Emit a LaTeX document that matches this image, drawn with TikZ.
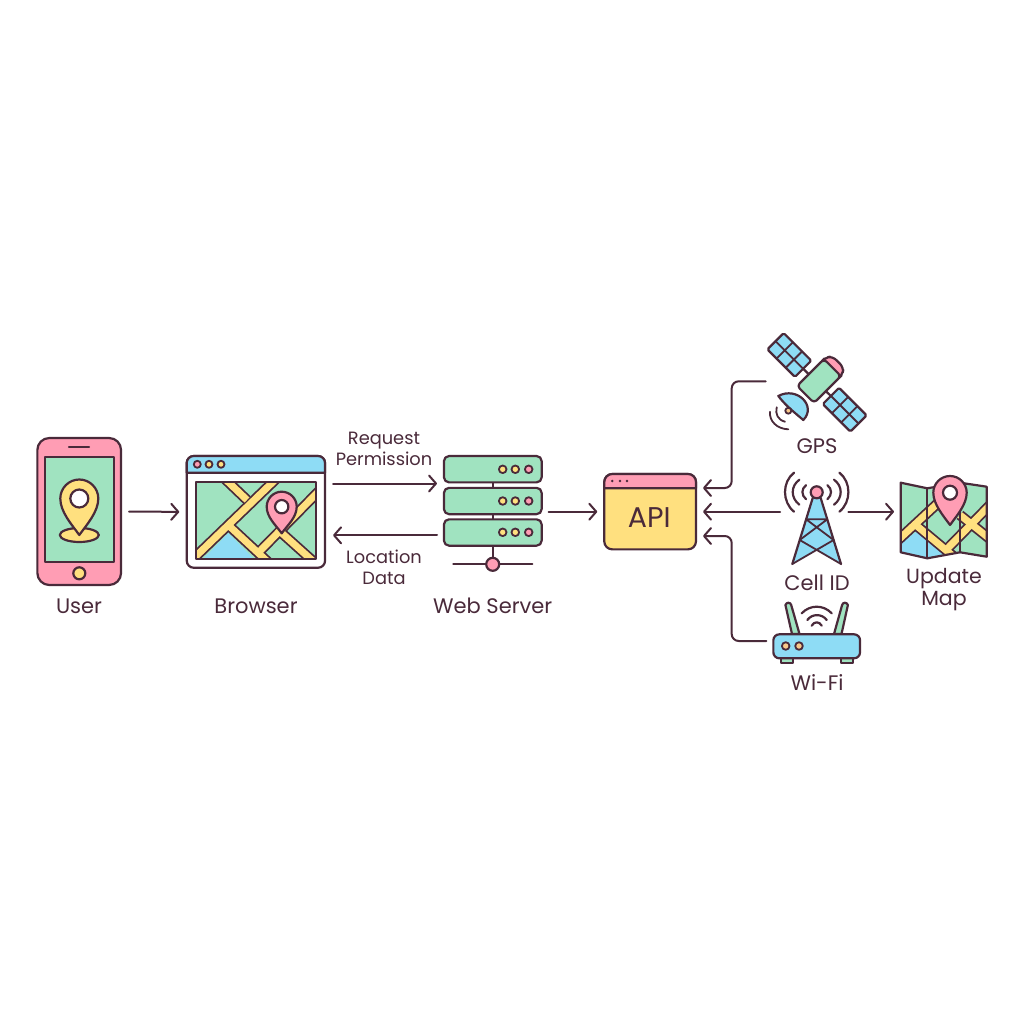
\documentclass[tikz,border=0pt]{standalone}
\usepackage{fontspec}
\setmainfont{Poppins}
\usetikzlibrary{arrows.meta,calc}
\definecolor{ink}{HTML}{4A2A3A}
\definecolor{rose}{HTML}{FF9DB4}
\definecolor{mint}{HTML}{A0E3C0}
\definecolor{butter}{HTML}{FFE07F}
\definecolor{sky}{HTML}{8EDCF5}
\definecolor{peach}{HTML}{F9C88A}
\tikzset{
  ln/.style={draw=ink,line width=2.2pt,line join=round,line cap=round},
  thin ln/.style={draw=ink,line width=1.8pt,line join=round,line cap=round},
  shapebox/.style={ln,rectangle,inner sep=0pt,outer sep=0pt},
  arr/.style={draw=ink,line width=2pt,line cap=round,-{Straight Barb[length=7pt,width=16pt,line width=2pt,round]}},
  lbl/.style={text=ink,align=center,inner sep=0pt,font=\fontsize{21}{22}\selectfont},
  lbls/.style={text=ink,align=center,inner sep=0pt,font=\fontsize{17.8}{21.5}\selectfont},
  roadout/.style={draw=ink,line width=10.5pt,line cap=butt,line join=miter},
  roadin/.style={draw=butter,line width=7pt,line cap=butt,line join=miter},
}
\newcommand{\locpin}[6]{% x y r L hole fill
  \begin{scope}[shift={(#1,#2)}]
  \draw[ln,fill=#6] (0,#4) .. controls ({-0.4*#3},{#4-0.55*#3}) and ({-#3},{0.7*#3}) .. ({-#3},0)
    .. controls ({-#3},{-0.55*#3}) and ({-0.55*#3},{-#3}) .. (0,{-#3})
    .. controls ({0.55*#3},{-#3}) and (#3,{-0.55*#3}) .. (#3,0)
    .. controls (#3,{0.7*#3}) and ({0.4*#3},{#4-0.55*#3}) .. (0,#4) -- cycle;
  \draw[ln,fill=white] (0,0) circle[radius=#5];
  \end{scope}}
\newcommand{\solarpanel}[2]{%
  \begin{scope}[shift={(#1,#2)},rotate=-45]
  \draw[ln,fill=sky,rounded corners=1.5pt] (-19.5,-11.5) rectangle (19.5,11.5);
  \draw[thin ln] (-6.5,-11.5) -- (-6.5,11.5) (6.5,-11.5) -- (6.5,11.5) (-19.5,0) -- (19.5,0);
  \end{scope}}
\begin{document}
\begin{tikzpicture}[x=1pt,y=-1pt]
\useasboundingbox[fill=white] (0,0) rectangle (1024,1024);

% ---------- phone
\node[shapebox,fill=rose,rounded corners=12pt,minimum width=83.7pt,minimum height=147pt] (phone) at (79.2,511.5) {};
\node[shapebox,fill=mint,minimum width=69.3pt,minimum height=105.3pt] (screen) at (79.3,509.4) {};
\draw[ln] (69,447) -- (89,447);
\draw[ln,fill=butter] (79.3,573.3) circle[radius=6];
\draw[ln,fill=butter] (79.3,535) ellipse[x radius=19.5,y radius=7];
\locpin{79.3}{498.5}{19}{36.5}{9}{butter}

% ---------- browser
\node[shapebox,fill=white,rounded corners=7pt,minimum width=138.3pt,minimum height=111.7pt] (browser) at (255.9,511.9) {};
\draw[ln,fill=sky] (186.7,472.7) [rounded corners=7pt] -- (186.7,456) -- (325,456) [sharp corners] -- (325,472.7) -- cycle;
\foreach \dx/\dc in {197.3/rose,209/butter,221/butter}
  \draw[thin ln,fill=\dc] (\dx,464.3) circle[radius=3.5];
\begin{scope}
  \clip (196,481.7) rectangle (315.7,559);
  \fill[mint] (196,481.7) rectangle (315.7,559);
  \fill[sky] (203,559) -- (228.3,533) -- (254,559) -- cycle;
  \foreach \st in {roadout,roadin}{
    \draw[\st] (192,560) -- (276,479);
    \draw[\st] (224,478) -- (247,500);
    \draw[\st] (230,526.7) -- (268,562);
    \draw[\st] (258,553) -- (320,490);
    \draw[\st] (281.7,533) -- (314,562);
  }
\end{scope}
\draw[ln] (196,481.7) rectangle (315.7,559);
\locpin{281.7}{506.7}{15}{26.6}{6.7}{rose}

% ---------- server
\draw[ln] (492.7,482) -- (492.7,488) (492.7,514) -- (492.7,520) (492.7,546) -- (492.7,564.3);
\draw[ln] (453.3,564.3) -- (532.3,564.3);
\node[shapebox,fill=mint,rounded corners=5pt,minimum width=97.7pt,minimum height=26.3pt] (srvA) at (492.8,469.2) {};
\node[shapebox,fill=mint,rounded corners=5pt,minimum width=97.7pt,minimum height=26.3pt] (srvB) at (492.8,501) {};
\node[shapebox,fill=mint,rounded corners=5pt,minimum width=97.7pt,minimum height=26.3pt] (srvC) at (492.8,532.5) {};
\foreach \yy in {469.3,501,532.3}{
  \draw[thin ln,fill=butter] (502.7,\yy) circle[radius=3.8];
  \draw[thin ln,fill=butter] (515.3,\yy) circle[radius=3.8];
  \draw[thin ln,fill=rose] (528.7,\yy) circle[radius=3.8];
}
\draw[ln,fill=rose] (492.7,564.3) circle[radius=6.5];

% ---------- API
\node[shapebox,fill=butter,rounded corners=8pt,minimum width=91.7pt,minimum height=75.3pt] (api) at (650.1,511.7) {};
\draw[ln,fill=rose] (604.3,488.3) [rounded corners=8pt] -- (604.3,474) -- (696,474) [sharp corners] -- (696,488.3) -- cycle;
\foreach \dx in {612.3,620,627} \fill[ink] (\dx,481) circle[radius=1.4];
\node[text=ink,inner sep=0pt,font=\fontsize{28.5}{30}\selectfont] (apitxt) at (649.3,518) {API};

% ---------- satellite
\draw[ln] (789.3,355) -- (844.7,409.7);
\solarpanel{789.3}{355}
\solarpanel{844.7}{409.7}
\begin{scope}[shift={(819,381)},rotate=45]
  \draw[ln,fill=rose,rounded corners=5pt] (15,-12) -- (21,-12) -- (27,-8) -- (27,8) -- (21,12) -- (15,12) -- cycle;
  \draw[ln,fill=mint,rounded corners=3.5pt] (-19,-12) rectangle (19,12);
\end{scope}
\draw[ln,fill=sky] (778.3,396) .. controls (797,386) and (817,406) .. (803.3,420) .. controls (795,413) and (785,405) .. (778.3,396) -- cycle;
\draw[thin ln,fill=peach] (788.3,410.7) circle[radius=3];
\draw[thin ln] (776.7,407.3) .. controls (775,414) and (778,420) .. (785,421.7);
\draw[thin ln] (770,411.7) .. controls (769,421) and (777,429) .. (788.3,429.3);
\coordinate (satport) at (765.7,381.3);

% ---------- tower
\fill[sky] (812.7,498) -- (792.3,564) -- (816.7,550) -- (841,564) -- (820.7,498) -- cycle;
\draw[ln] (812.7,498) -- (792.3,564) (820.7,498) -- (841,564);
\draw[thin ln] (806.1,519.3) -- (827.3,519.3) (806.1,519.3) -- (833.6,540) (827.3,519.3) -- (799.7,540)
  (799.7,540) -- (841,564) (833.6,540) -- (792.3,564);
\draw[ln,fill=rose] (816.7,492.3) circle[radius=6];
\foreach \sx in {-1,1}{
  \draw[ln] ({816.7+\sx*22.7},511.7) .. controls ({816.7+\sx*34.7},502) and ({816.7+\sx*34.7},482) .. ({816.7+\sx*22.7},472.7);
  \draw[ln] ({816.7+\sx*17.3},504.7) .. controls ({816.7+\sx*26.2},498) and ({816.7+\sx*26.2},486) .. ({816.7+\sx*17.3},479.7);
  \draw[ln] ({816.7+\sx*10.7},499.2) .. controls ({816.7+\sx*15.5},495) and ({816.7+\sx*15.5},489) .. ({816.7+\sx*10.7},485.2);
}
\coordinate (towerW) at (780,511.7);
\coordinate (towerE) at (848.3,511.7);

% ---------- update map
\begin{scope}
  \clip (900.7,482.7) -- (927.3,488.3) -- (960,482.7) -- (986.7,486.7) -- (986.7,556.7) -- (960,552.3) -- (927.3,558.3) -- (900.7,552.3) -- cycle;
  \fill[mint] (895,475) rectangle (990,560);
  \fill[sky] (900.7,543) -- (920,529.3) -- (947,553.3) -- (927.3,558.3) -- (900.7,552.3) -- cycle;
  \foreach \st in {roadout,roadin}{
    \draw[\st] (896,542) -- (938,503);
    \draw[\st] (917,526) -- (953,556);
    \draw[\st] (946,550) -- (990,505);
    \draw[\st] (960,515) -- (990,539);
  }
\end{scope}
\draw[ln] (927.3,488.3) -- (927.3,558.3) (960,482.7) -- (960,552.3);
\draw[ln] (900.7,482.7) -- (927.3,488.3) -- (960,482.7) -- (986.7,486.7) -- (986.7,556.7) -- (960,552.3) -- (927.3,558.3) -- (900.7,552.3) -- cycle;
\locpin{950}{492.7}{16.7}{32.3}{7}{rose}
\coordinate (mapW) at (894,511.7);

% ---------- wifi
\draw[ln,fill=mint] (785.4,605) .. controls (786.5,602) and (790.5,602) .. (791.2,605) -- (799.5,634) -- (792,634) -- cycle;
\draw[ln,fill=mint] (847.9,605) .. controls (846.8,602) and (842.8,602) .. (842.1,605) -- (834,634) -- (841.5,634) -- cycle;
\draw[ln,fill=mint] (780.7,658) -- (780.7,663) -- (792.7,663) -- (792.7,658);
\draw[ln,fill=mint] (840.7,658) -- (840.7,663) -- (852.7,663) -- (852.7,658);
\node[shapebox,fill=sky,rounded corners=6pt,minimum width=86.7pt,minimum height=24pt] (router) at (816.7,646.3) {};
\draw[thin ln,fill=peach] (785.7,646) circle[radius=3.8];
\draw[thin ln,fill=peach] (799,646) circle[radius=3.8];
\draw[ln] (801.7,613.3) .. controls (810,604.5) and (823.4,604.5) .. (831.7,613.3);
\draw[ln] (807.3,620) .. controls (812,613.5) and (822,613.5) .. (826.7,620);
\draw[ln] (811.7,625.7) .. controls (814,621.2) and (819.4,621.2) .. (821.7,625.7);

% ---------- connectors
\draw[arr,shorten <=8pt,shorten >=7.5pt] (phone.east) -- (browser.west);
\coordinate (srvReq) at (444,483.5);
\coordinate (srvLoc) at (444,535.3);
\draw[arr,shorten <=8pt,shorten >=7pt] (browser.east |- srvReq) -- (srvReq);
\draw[arr,shorten <=7pt,shorten >=8pt] (srvLoc) -- (browser.east |- srvLoc);
\coordinate (srvOut) at (541.7,511.7);
\draw[arr,shorten <=7pt,shorten >=7pt] (srvOut) -- (api.west |- srvOut);
\coordinate (apiTop) at (696,488);
\coordinate (apiMid) at (696,511.7);
\coordinate (apiLow) at (696,536);
\draw[arr,rounded corners=7pt,shorten >=7pt] (satport) -- (731.7,381.3) -- (731.7,488) -- (apiTop);
\draw[arr,shorten >=7pt] (towerW) -- (apiMid);
\draw[arr,rounded corners=7pt,shorten <=7pt,shorten >=7pt] (router.west |- 0,641) -- (731.7,641) -- (731.7,536) -- (apiLow);
\draw[arr] (towerE) -- (mapW);

% ---------- labels
\node[lbl] (tUser) at (79,606) {User};
\node[lbl] (tBrowser) at (256,606) {Browser};
\node[lbl] (tServer) at (492.7,606) {Web Server};
\node[lbls] (tReq) at (384,449) {Request\\Permission};
\node[lbls] (tLoc) at (384,567.5) {Location\\Data};
\node[lbl] (tGps) at (817,446) {GPS};
\node[lbl] (tCell) at (817,583) {Cell ID};
\node[lbl,font=\fontsize{20.5}{22}\selectfont] (tMap) at (944,590) {Update\\Map};
\node[lbl] (tWifi) at (817,683) {Wi-Fi};
\end{tikzpicture}
\end{document}
